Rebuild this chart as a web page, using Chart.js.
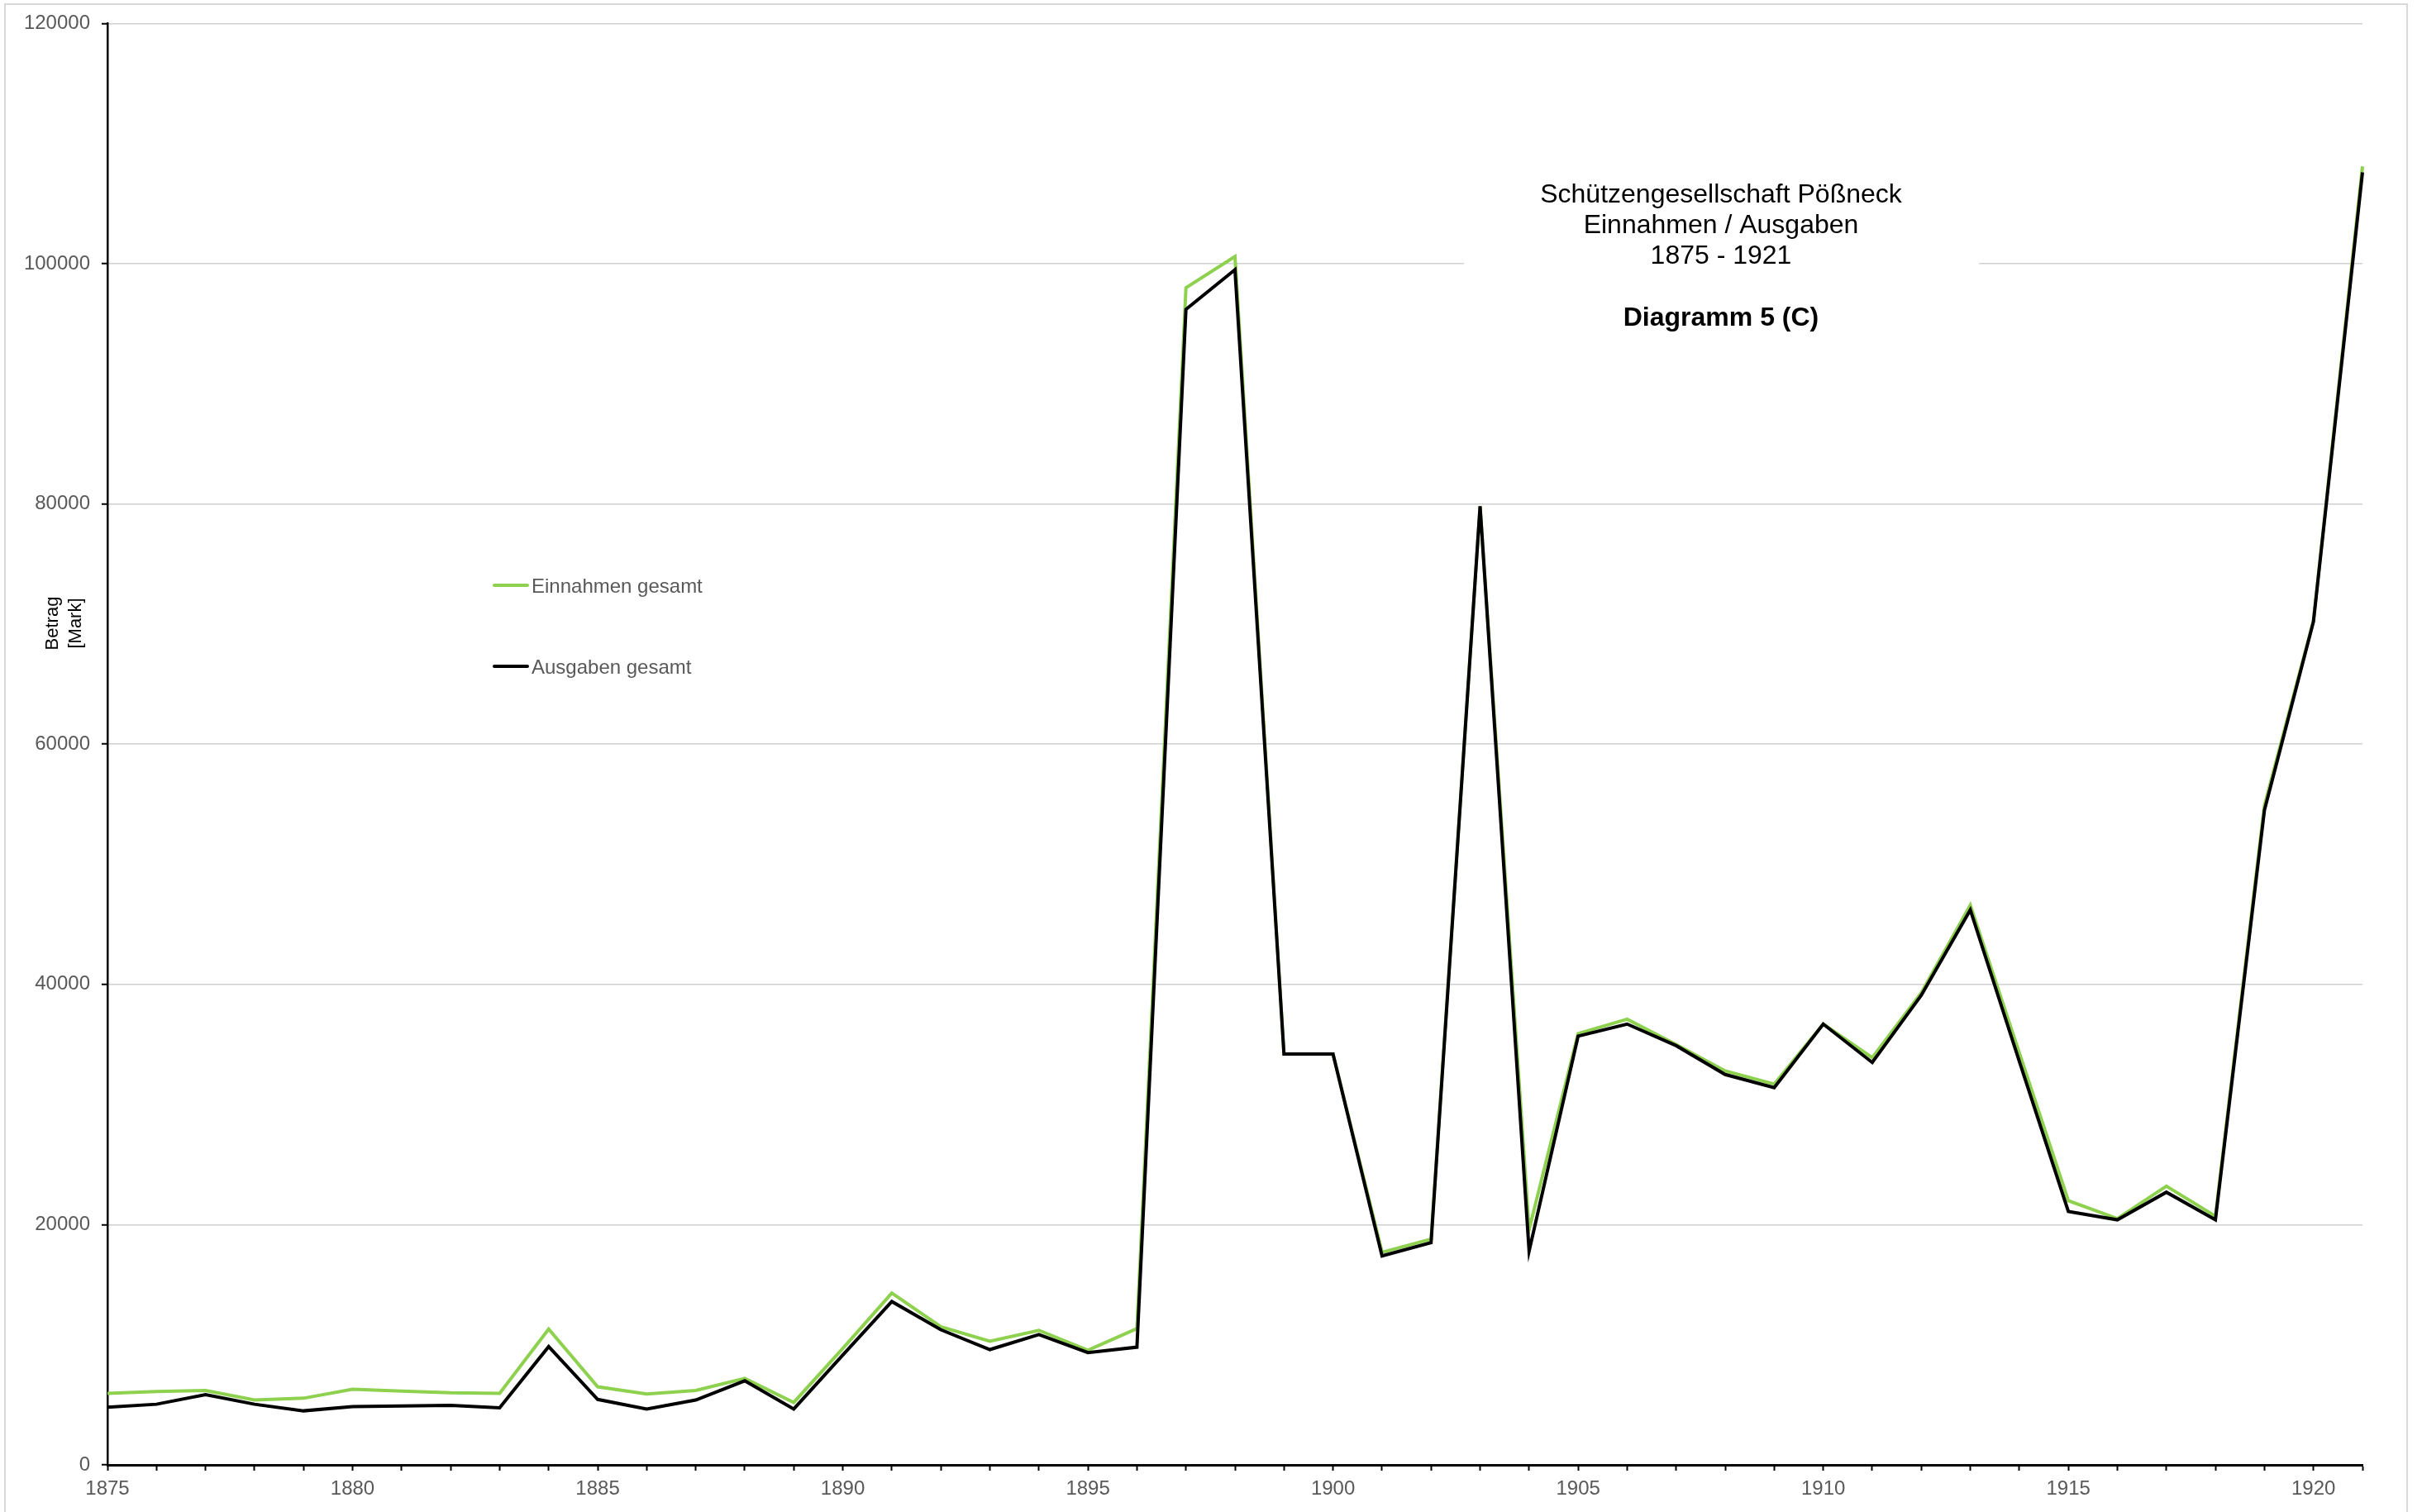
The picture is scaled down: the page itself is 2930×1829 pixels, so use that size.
<!DOCTYPE html>
<html>
<head>
<meta charset="utf-8">
<script src="https://cdn.jsdelivr.net/npm/chart.js@4/dist/chart.umd.min.js"></script>
<style>
  html, body { margin: 0; padding: 0; background: #fff; }
  #wrap { width: 2930px; height: 1829px; position: relative; }
</style>
</head>
<body>
<div id="wrap"><canvas id="chart" width="2930" height="1829"></canvas></div>
<script>
  // Jahre 1875 - 1921
  const years = [1875, 1876, 1877, 1878, 1879, 1880, 1881, 1882, 1883, 1884,
    1885, 1886, 1887, 1888, 1889, 1890, 1891, 1892, 1893, 1894,
    1895, 1896, 1897, 1898, 1899, 1900, 1901, 1902, 1903, 1904,
    1905, 1906, 1907, 1908, 1909, 1910, 1911, 1912, 1913, 1914,
    1915, 1916, 1917, 1918, 1919, 1920, 1921];

  const einnahmen = [5950, 6100, 6200, 5400, 5550, 6300, 6150, 6000, 5950, 11300,
    6500, 5900, 6200, 7200, 5200, 9700, 14300, 11500, 10300, 11200,
    9550, 11350, 98000, 100600, 34200, 34200, 17700, 18800, 79800, 19600,
    35900, 37100, 35000, 32800, 31700, 36700, 33900, 39300, 46600, 34300,
    22000, 20500, 23200, 20700, 54900, 70300, 108100];

  const ausgaben = [4800, 5050, 5850, 5050, 4500, 4850, 4900, 4950, 4750, 9850,
    5450, 4650, 5400, 7000, 4650, 9150, 13600, 11250, 9600, 10850,
    9350, 9800, 96200, 99500, 34200, 34200, 17400, 18500, 79800, 17800,
    35700, 36700, 34900, 32500, 31400, 36700, 33500, 39100, 46200, 33600,
    21100, 20400, 22700, 20400, 54500, 70200, 107600];

  const yTicks = [0, 20000, 40000, 60000, 80000, 100000, 120000];

  const titleLines = ['Schützengesellschaft Pößneck', 'Einnahmen / Ausgaben', '1875 - 1921'];
  const titleBold = 'Diagramm 5 (C)';

  const FONT = '"Liberation Sans", Arial, sans-serif';
  Chart.defaults.font.family = FONT;

  // Rahmen, Titel, Legende und Achsentitel
  const decor = {
    id: 'decor',
    beforeDraw(chart) {
      const ctx = chart.ctx;
      ctx.save();
      ctx.strokeStyle = '#d9d9d9';
      ctx.lineWidth = 2;
      ctx.strokeRect(6, 5, 2906, 1900);
      ctx.restore();
    },
    afterDraw(chart) {
      const ctx = chart.ctx;
      ctx.save();
      // weisser Kasten hinter dem Titel
      ctx.fillStyle = '#fff';
      ctx.fillRect(1771, 195, 623, 220);
      ctx.fillStyle = '#000';
      ctx.textAlign = 'center';
      ctx.textBaseline = 'alphabetic';
      ctx.font = '32px ' + FONT;
      titleLines.forEach((t, i) => ctx.fillText(t, 2082, 245 + i * 37.2));
      ctx.font = 'bold 32px ' + FONT;
      ctx.fillText(titleBold, 2082, 394);

      // Legende
      const ds = chart.data.datasets;
      const rows = [708, 806];
      ctx.textAlign = 'left';
      ctx.font = '24px ' + FONT;
      ds.forEach((d, i) => {
        ctx.strokeStyle = d.borderColor;
        ctx.lineWidth = 4;
        ctx.lineCap = 'round';
        ctx.beginPath();
        ctx.moveTo(598, rows[i]);
        ctx.lineTo(638, rows[i]);
        ctx.stroke();
        ctx.fillStyle = '#595959';
        ctx.fillText(d.label, 643, rows[i] + 9);
      });

      // Achsentitel
      ctx.translate(0, 754);
      ctx.rotate(-Math.PI / 2);
      ctx.textAlign = 'center';
      ctx.fillStyle = '#000';
      ctx.font = '22px ' + FONT;
      ctx.fillText('Betrag', 0, 70);
      ctx.fillText('[Mark]', 0, 98);
      ctx.restore();
    }
  };

  new Chart(document.getElementById('chart'), {
    type: 'line',
    data: {
      labels: years,
      datasets: [{
        label: 'Einnahmen gesamt',
        data: einnahmen,
        borderColor: '#8dd14f',
        borderWidth: 4,
        pointRadius: 0,
        tension: 0,
        order: 2,
      }, {
        label: 'Ausgaben gesamt',
        data: ausgaben,
        borderColor: '#000000',
        borderWidth: 4,
        pointRadius: 0,
        tension: 0,
        order: 1,
      }],
    },
    options: {
      responsive: false,
      animation: false,
      events: [],
      layout: { padding: { top: 28, right: 72, left: 0, bottom: 0 } },
      plugins: {
        legend: { display: false },
        tooltip: { enabled: false },
      },
      scales: {
        x: {
          type: 'category',
          offset: false,
          afterFit: (s) => { s.height = 57; },
          ticks: {
            autoSkip: false,
            maxRotation: 0,
            padding: 8,
            color: '#595959',
            font: { size: 24 },
            callback: (v, i) => (years[i] % 5 === 0 ? String(years[i]) : ''),
          },
          grid: {
            drawOnChartArea: false,
            drawTicks: true,
            tickLength: 7,
            tickColor: '#000',
            tickWidth: 2,
          },
          border: { color: '#000', width: 3 },
        },
        y: {
          min: 0,
          max: 120000,
          afterFit: (s) => { s.width = 130; },
          afterBuildTicks: (s) => { s.ticks = yTicks.map((v) => ({ value: v })); },
          ticks: {
            padding: 14,
            color: '#595959',
            font: { size: 24 },
            callback: (v) => String(v),
          },
          grid: {
            color: '#d0d0d0',
            lineWidth: 1.5,
            drawTicks: true,
            tickLength: 7,
            tickColor: '#000',
            tickWidth: 2,
          },
          border: { color: '#000', width: 2.5 },
        },
      },
    },
    plugins: [decor],
  });
</script>
</body>
</html>
